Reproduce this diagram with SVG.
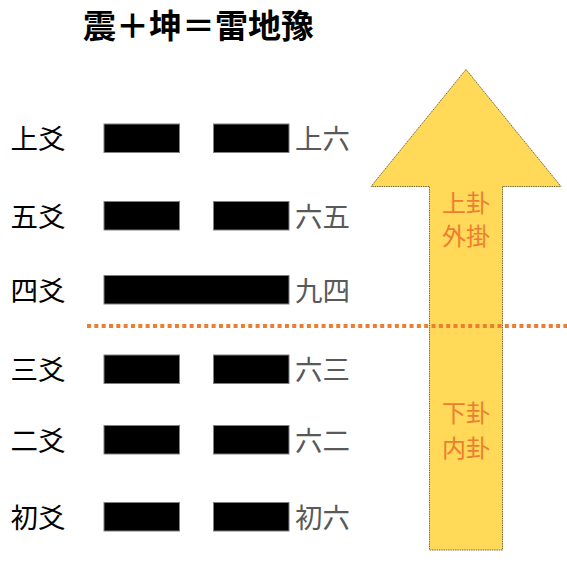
<svg xmlns="http://www.w3.org/2000/svg" width="567" height="563" viewBox="0 0 567 563">
<style>
.t{font-family:"Noto Sans CJK JP","Noto Sans CJK SC",sans-serif;dominant-baseline:central}
.lbl{font-size:27.5px;fill:#000}
.yao{font-size:27.5px;fill:#595959}
.gua{font-size:24px;fill:#ED7D31;text-anchor:middle}
.bar{fill:#000;stroke:#7f7f7f;stroke-width:1}
</style>
<rect width="567" height="563" fill="#fff"/>
<text class="t" x="83" y="23.5" font-size="33" font-weight="bold" fill="#000">震＋坤＝雷地豫</text>
<g id="arrow">
<polygon points="466,69.5 561,186.5 502.5,186.5 502.5,550 429.5,550 429.5,186.5 371,186.5" fill="#FFD957" stroke="#7a6a30" stroke-width="1" stroke-dasharray="1.5 0.8"/>
<text class="t gua" x="466" y="201">上卦</text>
<text class="t gua" x="466" y="234.5">外掛</text>
<text class="t gua" x="466" y="411">下卦</text>
<text class="t gua" x="466" y="446.5">内卦</text>
</g>
<g id="connectors">
<line x1="87" y1="326" x2="567" y2="326" stroke="#ED7D31" stroke-width="4" stroke-dasharray="4 3.33"/>
</g>
<g id="line6">
<text class="t lbl" x="10.5" y="137">上爻</text>
<rect class="bar" x="104" y="124" width="75.5" height="28.5"/>
<rect class="bar" x="213.5" y="124" width="75.5" height="28.5"/>
<text class="t yao" x="295" y="137">上六</text>
</g>
<g id="line5">
<text class="t lbl" x="10.5" y="215">五爻</text>
<rect class="bar" x="104" y="201.5" width="75.5" height="28.5"/>
<rect class="bar" x="213.5" y="201.5" width="75.5" height="28.5"/>
<text class="t yao" x="295" y="215">六五</text>
</g>
<g id="line4">
<text class="t lbl" x="10.5" y="289">四爻</text>
<rect class="bar" x="104" y="275.5" width="185" height="28.5"/>
<text class="t yao" x="295" y="289">九四</text>
</g>
<g id="line3">
<text class="t lbl" x="10.5" y="368">三爻</text>
<rect class="bar" x="104" y="355" width="75.5" height="28.5"/>
<rect class="bar" x="213.5" y="355" width="75.5" height="28.5"/>
<text class="t yao" x="295" y="368">六三</text>
</g>
<g id="line2">
<text class="t lbl" x="10.5" y="439">二爻</text>
<rect class="bar" x="104" y="425.5" width="75.5" height="28.5"/>
<rect class="bar" x="213.5" y="425.5" width="75.5" height="28.5"/>
<text class="t yao" x="295" y="439">六二</text>
</g>
<g id="line1">
<text class="t lbl" x="10.5" y="516">初爻</text>
<rect class="bar" x="104" y="502.5" width="75.5" height="28.5"/>
<rect class="bar" x="213.5" y="502.5" width="75.5" height="28.5"/>
<text class="t yao" x="295" y="516">初六</text>
</g>
</svg>
